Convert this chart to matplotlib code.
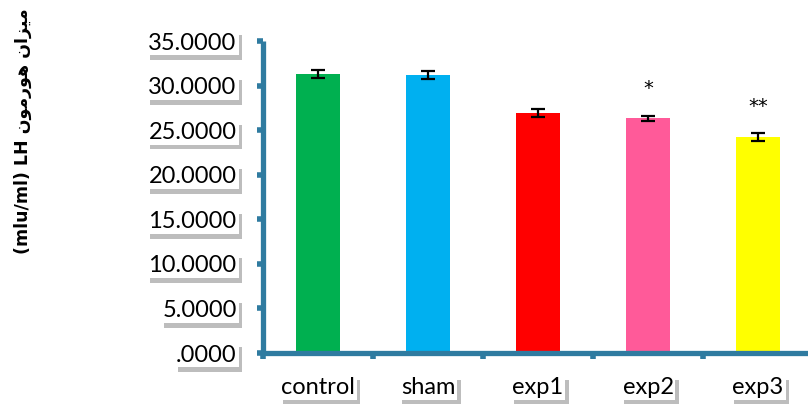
import matplotlib
matplotlib.use("Agg")
import matplotlib.pyplot as plt
import matplotlib.patheffects as pe
from matplotlib.ticker import FixedLocator
import numpy as np

categories = ["control", "sham", "exp1", "exp2", "exp3"]
values = [31.30, 31.19, 26.92, 26.36, 24.23]
errors = [0.45, 0.40, 0.45, 0.28, 0.45]
colors = ["#00B050", "#00B0F0", "#FF0000", "#FF5A99", "#FFFF00"]
marks = ["", "", "", "*", "**"]
ytick_vals = [0, 5, 10, 15, 20, 25, 30, 35]
ytick_labels = [".0000", "5.0000", "10.0000", "15.0000", "20.0000", "25.0000", "30.0000", "35.0000"]
ylabel_text = "(mlu/ml) LH " + "\uFEE5\uFEEE\uFEE3\uFEAD\uFEEE\uFEEB \uFEE5\uFE8D\uFEB0\uFEF4\uFEE3"

axis_color = "#2F7BA0"
W, H = 808, 408
fig = plt.figure(figsize=(W / 100, H / 100), dpi=100)
x0, x1 = 263, 813
y0, y1 = 353, 41
ax = fig.add_axes([x0 / W, 1 - y0 / H, (x1 - x0) / W, (y0 - y1) / H])

x = np.arange(len(categories))
ax.bar(x, values, width=0.4, color=colors, zorder=2)
ax.errorbar(x, values, yerr=errors, fmt="none", ecolor="black", elinewidth=1.6,
            capsize=5, capthick=1.6, zorder=3)
offsets = [0, 0, 0, 3.3, 3.4]
for xi, v, m, o in zip(x, values, marks, offsets):
    if m:
        ax.text(xi, v + o, m, ha="center", va="center", fontsize=14,
                family=["DejaVu Sans"], color="black")

ax.set_xlim(-0.5, 4.5)
ax.set_ylim(0, 35)
for s in ["top", "right"]:
    ax.spines[s].set_visible(False)
for s in ["left", "bottom"]:
    ax.spines[s].set_color(axis_color)
    ax.spines[s].set_linewidth(3.8)
    ax.spines[s].set_capstyle("butt")

ax.yaxis.set_major_locator(FixedLocator(ytick_vals))
ax.set_yticklabels(ytick_labels)
ax.xaxis.set_major_locator(FixedLocator(list(x)))
ax.set_xticklabels(categories)
ax.xaxis.set_minor_locator(FixedLocator(list(np.arange(-0.5, 5.0, 1.0))))

ax.tick_params(axis="y", which="major", direction="out", length=4, width=4,
               color=axis_color, pad=15, labelsize=17)
ax.tick_params(axis="x", which="major", length=0, pad=17, labelsize=17)
ax.tick_params(axis="x", which="minor", direction="out", length=4, width=4,
               color=axis_color)

shadow = [pe.SimplePatchShadow(offset=(2.5, -3.5), shadow_rgbFace="#888888", alpha=0.55),
          pe.Normal()]
for lab in ax.get_yticklabels() + ax.get_xticklabels():
    lab.set_family(["Lato", "DejaVu Sans"])
    lab.set_bbox(dict(boxstyle="square,pad=0.08", facecolor="white", edgecolor="none"))
    lab.get_bbox_patch().set_path_effects(shadow)

fig.text(23 / W, 1 - 131 / H, ylabel_text, rotation=90, ha="center", va="center",
         fontsize=12.5, fontweight="bold", family=["DejaVu Sans"])

fig.savefig("out.png", dpi=100)
